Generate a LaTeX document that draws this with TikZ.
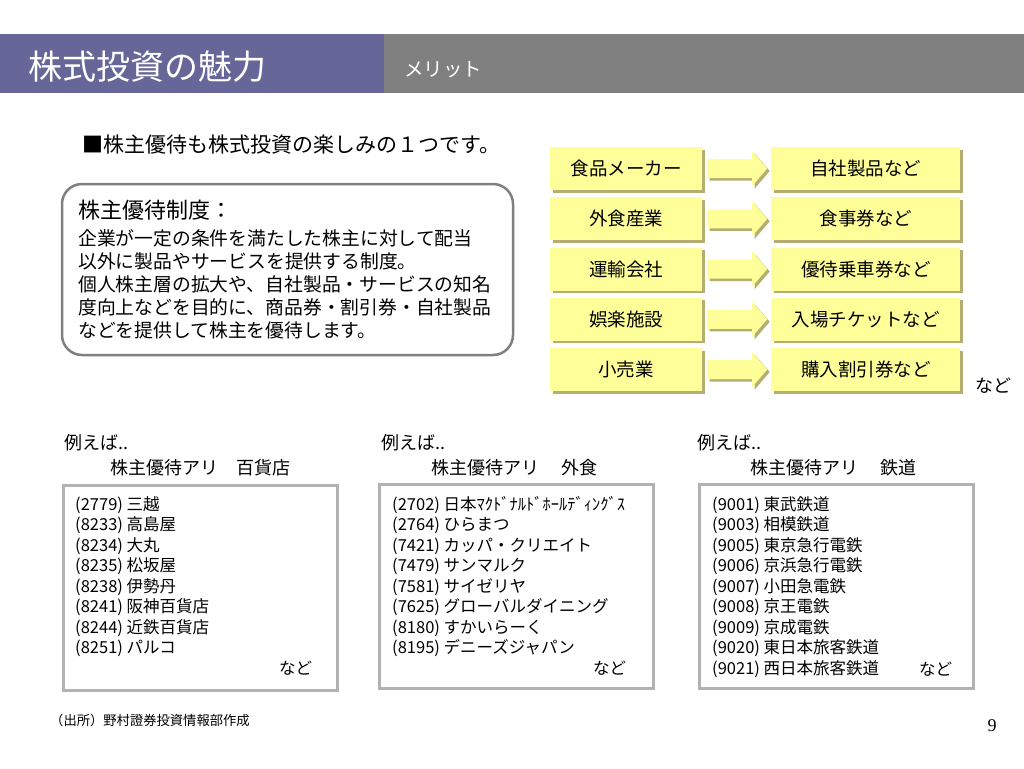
\documentclass[tikz,border=0pt]{standalone}
\usepackage{fontspec}
\setmainfont{Noto Sans CJK JP}
\newfontfamily\slidenumfont{Liberation Serif}
\usetikzlibrary{positioning,shadows}
\definecolor{hdrpurple}{HTML}{666699}
\definecolor{hdrgray}{HTML}{808080}
\definecolor{boxyellow}{HTML}{FFFF99}
\definecolor{boxshade}{HTML}{B4AE72}
\definecolor{framegray}{HTML}{B2B2B2}
\definecolor{roundgray}{HTML}{808080}

\begin{document}
\begin{tikzpicture}[x=1pt, y=-1pt,
    txt/.style={inner sep=0pt, anchor=west},
    entry/.style={txt, font=\fontsize{16.5}{19}\selectfont},
    lbl/.style={txt, font=\fontsize{18}{21}\selectfont},
    gshadow/.style={drop shadow={shadow xshift=2.5pt, shadow yshift=-2.5pt, fill=boxshade, opacity=1}},
    gbox/.style={fill=boxyellow, minimum width=152pt, minimum height=43pt, inner sep=0pt,
      font=\fontsize{18.5}{21}\selectfont, gshadow},
    barrow/.style={fill=boxyellow, gshadow},
    listframe/.style={draw=framegray, line width=3pt}]
  \useasboundingbox (0,0) rectangle (1024,768);
  \fill[white] (0,0) rectangle (1024,768);
  % header band
  \fill[hdrpurple] (0,34) rectangle (384,93);
  \fill[hdrgray] (384,34) rectangle (1024,93);
  \node[txt, text=white, font=\fontsize{34}{38}\selectfont] (title) at (28,67) {株式投資の魅力};
  \node[txt, text=white, font=\fontsize{19.5}{22}\selectfont] (subtitle) at (404,70) {メリット};
  % lead line and definition box
  \node[txt, font=\fontsize{21}{24}\selectfont] (lead) at (82,145) {■株主優待も株式投資の楽しみの１つです。};
  \node[draw=roundgray, line width=2.5pt, rounded corners=20pt, minimum width=451pt,
    minimum height=171pt, inner sep=0pt] (defbox) at (287.5,269.5) {};
  \node[txt, font=\fontsize{22}{25}\selectfont] (defhead) at (78,210) {株主優待制度：};
  \foreach \l [count=\i] in {企業が一定の条件を満たした株主に対して配当,
      以外に製品やサービスを提供する制度。,
      個人株主層の拡大や、自社製品・サービスの知名,
      度向上などを目的に、商品券・割引券・自社製品,
      などを提供して株主を優待します。}
    \node[txt, font=\fontsize{18.8}{22}\selectfont] (defline\i) at (78,238+23.2*\i-23.2) {\l};
  % industry -> benefit rows
  \foreach \src/\dst [count=\i] in {食品メーカー/自社製品など, 外食産業/食事券など,
      運輸会社/優待乗車券など, 娯楽施設/入場チケットなど, 小売業/購入割引券など} {
    \node[gbox] (src\i) at (626,168.5+50.25*\i-50.25) {\src};
    \node[gbox, minimum width=189pt, right=69pt of src\i] (dst\i) {\dst};
    % block arrow from box to box
    \fill[barrow] ([shift={(5pt,9.5pt)}]src\i.east) -- ++(45pt,0pt) -- ++(0pt,8pt)
      -- ([xshift=-4pt]dst\i.west) -- ++(-15pt,-17.5pt) -- ++(0pt,8pt) -- ++(-45pt,0pt) -- cycle;
  }
  \node[lbl] (rowetc) at (975,386) {など};
  % example lists
  \node[lbl] (exA) at (64,443) {例えば..};
  \node[lbl] (headA) at (110,468) {株主優待アリ　百貨店};
  \draw[listframe] (63,485) rectangle (337,690);
  \foreach \e [count=\i] in {{(2779) 三越}, {(8233) 高島屋}, {(8234) 大丸}, {(8235) 松坂屋},
      {(8238) 伊勢丹}, {(8241) 阪神百貨店}, {(8244) 近鉄百貨店}, {(8251) パルコ}}
    \node[entry] (dept\i) at (75,505+20.5*\i-20.5) {\e};
  \node[entry] (deptetc) at (279,668) {など};

  \node[lbl] (exB) at (381,443) {例えば..};
  \node[lbl] (headB) at (431,468) {株主優待アリ　 外食};
  \draw[listframe] (379,484) rectangle (653,688);
  \foreach \e [count=\i] in {{(2702) 日本ﾏｸﾄﾞﾅﾙﾄﾞﾎｰﾙﾃﾞｨﾝｸﾞｽ}, {(2764) ひらまつ},
      {(7421) カッパ・クリエイト}, {(7479) サンマルク}, {(7581) サイゼリヤ},
      {(7625) グローバルダイニング}, {(8180) すかいらーく}, {(8195) デニーズジャパン}}
    \node[entry] (food\i) at (392,505+20.5*\i-20.5) {\e};
  \node[entry] (foodetc) at (593,668) {など};

  \node[lbl] (exC) at (697,443) {例えば..};
  \node[lbl] (headC) at (750,468) {株主優待アリ　 鉄道};
  \draw[listframe] (699,484) rectangle (973,688);
  \foreach \e [count=\i] in {{(9001) 東武鉄道}, {(9003) 相模鉄道}, {(9005) 東京急行電鉄},
      {(9006) 京浜急行電鉄}, {(9007) 小田急電鉄}, {(9008) 京王電鉄}, {(9009) 京成電鉄},
      {(9020) 東日本旅客鉄道}, {(9021) 西日本旅客鉄道}}
    \node[entry] (rail\i) at (712,505+20.5*\i-20.5) {\e};
  \node[entry] (railetc) at (919,669) {など};
  % footer
  \node[txt, font=\fontsize{13.3}{15}\selectfont] (source) at (50,720) {（出所）野村證券投資情報部作成};
  \node[inner sep=0pt, font=\slidenumfont\fontsize{18}{20}\selectfont] (pageno) at (992,726) {9};
\end{tikzpicture}
\end{document}
